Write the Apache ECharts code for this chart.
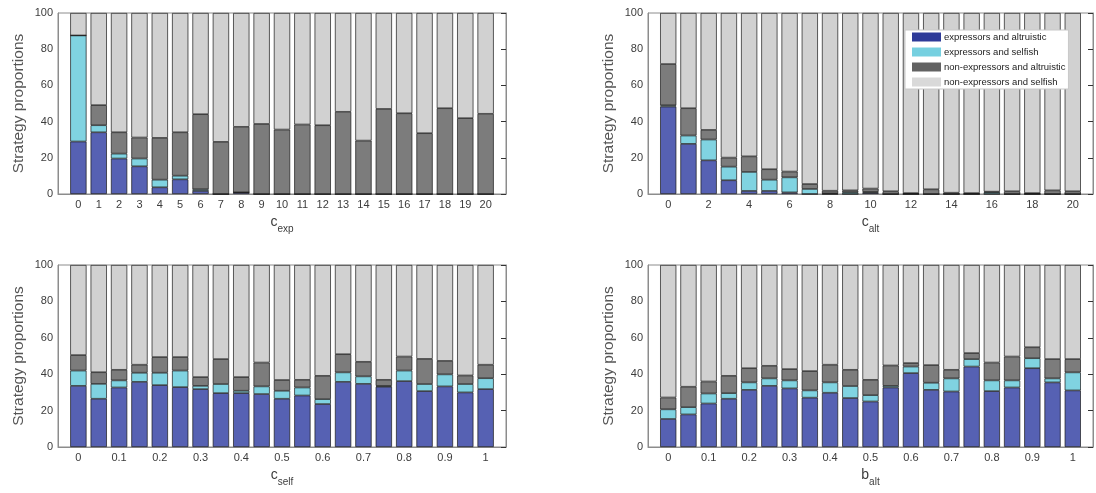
<!DOCTYPE html>
<html>
<head>
<meta charset="utf-8">
<script src="https://cdn.jsdelivr.net/npm/echarts@6/dist/echarts.min.js"></script>
<style>
  html, body { margin: 0; padding: 0; background: #ffffff; }
  #chart { width: 1096px; height: 493px; }
</style>
</head>
<body>
<div id="chart"></div>
<script>
// Tick labels for each panel (one per bar, 21 parameter values)
const cExpLabels  = ['0','1','2','3','4','5','6','7','8','9','10','11','12','13','14','15','16','17','18','19','20'];
const cAltLabels  = ['0','','2','','4','','6','','8','','10','','12','','14','','16','','18','','20'];
const cSelfLabels = ['0','','0.1','','0.2','','0.3','','0.4','','0.5','','0.6','','0.7','','0.8','','0.9','','1'];
const bAltLabels  = ['0','','0.1','','0.2','','0.3','','0.4','','0.5','','0.6','','0.7','','0.8','','0.9','','1'];

// Strategy proportions (%) — panel c_exp
const cExpExprAlt  = [29.0,34.1,19.6,15.3,3.7,8.1,1.7,0,0.9,0,0,0,0,0,0,0,0,0,0,0,0];
const cExpExprSelf = [58.6,3.9,2.7,4.3,4.2,2.0,0.9,0,0,0,0,0,0,0,0,0,0,0,0,0,0];
const cExpNonAlt   = [0,11.1,11.8,11.6,23.1,24.0,41.5,28.8,36.2,38.7,35.6,38.4,38.0,45.4,29.5,47.0,44.6,33.6,47.4,41.9,44.3];
const cExpNonSelf  = [12.4,50.9,65.9,68.8,69.0,65.9,55.9,71.2,62.9,61.3,64.4,61.6,62.0,54.6,70.5,53.0,55.4,66.4,52.6,58.1,55.7];

// Strategy proportions (%) — panel c_alt
const cAltExprAlt  = [48.3,27.7,18.6,7.6,1.7,1.7,0.9,0,0,0,0.7,0,0,0,0,0,0,0,0,0,0];
const cAltExprSelf = [0.7,4.6,11.5,7.5,10.5,6.2,8.3,2.8,0.3,1.0,0.5,0,0,0,0,0,1.0,0,0,0,0];
const cAltNonAlt   = [22.8,15.1,5.3,5.0,8.6,5.8,3.2,2.7,1.5,1.0,1.8,1.5,0.5,2.6,0.7,0.5,0.3,1.5,0.5,2.0,1.5];
const cAltNonSelf  = [28.2,52.6,64.6,79.9,79.2,86.3,87.6,94.5,98.2,98.0,97.0,98.5,99.5,97.4,99.3,99.5,98.7,98.5,99.5,98.0,98.5];

// Strategy proportions (%) — panel c_self
const cSelfExprAlt  = [33.6,26.5,32.7,35.8,34.0,32.9,31.8,29.6,29.6,29.1,26.5,28.3,23.6,35.8,34.7,33.1,36.2,30.7,33.3,30.0,31.8];
const cSelfExprSelf = [8.4,8.2,3.9,5.0,6.8,9.1,1.8,5.0,1.3,4.2,4.4,4.4,2.7,5.2,4.1,0.5,5.8,3.9,6.6,4.6,6.0];
const cSelfNonAlt   = [8.5,6.4,5.8,4.4,8.6,7.4,4.8,13.7,7.5,13.1,5.9,4.2,12.8,10.0,8.0,3.3,7.7,13.8,7.4,4.7,7.4];
const cSelfNonSelf  = [49.5,58.9,57.6,54.8,50.6,50.6,61.6,51.7,61.6,53.6,63.2,63.1,60.9,49.0,53.2,63.1,50.3,51.6,52.7,60.7,54.8];

// Strategy proportions (%) — panel b_alt
const bAltExprAlt  = [15.4,17.9,23.9,26.5,31.4,33.6,32.2,27.1,29.8,26.9,25.0,32.7,40.6,31.4,30.5,44.2,30.7,32.7,43.3,35.5,31.1];
const bAltExprSelf = [5.3,4.0,5.5,3.1,4.1,4.1,4.4,4.0,5.7,6.6,3.5,0.9,3.6,3.9,7.2,4.1,5.9,3.9,5.5,2.2,9.9];
const bAltNonAlt   = [6.5,11.2,6.6,9.5,7.8,6.9,6.2,10.6,9.7,8.9,8.4,11.2,1.9,9.7,4.7,3.3,9.8,13.1,6.0,10.6,7.3];
const bAltNonSelf  = [72.8,66.9,64.0,60.9,56.7,55.4,57.2,58.3,54.8,57.6,63.1,55.2,53.9,55.0,57.6,48.4,53.6,50.3,45.2,51.7,51.7];

const strategyNames = [
  'expressors and altruistic',
  'expressors and selfish',
  'non-expressors and altruistic',
  'non-expressors and selfish'
];
const barColors    = ['#5661b3', '#80d3e1', '#7c7c7c', '#d1d1d1'];
const legendColors = ['#2d3a98', '#76d0e0', '#626262', '#d9d9d9'];

const panels = [
  { labels: cExpLabels,  main: 'c', sub: 'exp',  series: [cExpExprAlt, cExpExprSelf, cExpNonAlt, cExpNonSelf],
    box: { left: 58,  top: 13,  width: 448, height: 181 } },
  { labels: cAltLabels,  main: 'c', sub: 'alt',  series: [cAltExprAlt, cAltExprSelf, cAltNonAlt, cAltNonSelf],
    box: { left: 648, top: 13,  width: 448, height: 181 } },
  { labels: cSelfLabels, main: 'c', sub: 'self', series: [cSelfExprAlt, cSelfExprSelf, cSelfNonAlt, cSelfNonSelf],
    box: { left: 58,  top: 265, width: 448, height: 182 } },
  { labels: bAltLabels,  main: 'b', sub: 'alt',  series: [bAltExprAlt, bAltExprSelf, bAltNonAlt, bAltNonSelf],
    box: { left: 648, top: 265, width: 448, height: 182 } }
];

const FONT = '"Liberation Sans", Arial, Helvetica, sans-serif';
const AXIS_GRAY = '#8c8c8c';
const TEXT_GRAY = '#3c3c3c';

const grid = [], xAxis = [], yAxis = [], series = [];

panels.forEach((p, k) => {
  grid.push(Object.assign({ show: true, borderColor: AXIS_GRAY, borderWidth: 1, backgroundColor: '#fff' }, p.box));

  // one empty slot at each end keeps a full bar pitch between the box and the outer bars
  xAxis.push({
    type: 'category', gridIndex: k, boundaryGap: false,
    data: [''].concat(p.labels, ['']),
    axisLine: { show: true, onZero: false, lineStyle: { color: AXIS_GRAY } },
    axisTick: { show: false },
    splitLine: { show: false },
    axisLabel: { interval: 0, margin: 5, fontSize: 11, color: TEXT_GRAY, fontFamily: FONT },
    name: '{m|' + p.main + '}{s|' + p.sub + '}',
    nameLocation: 'middle', nameGap: 21,
    nameTextStyle: {
      rich: {
        m: { fontSize: 14, color: TEXT_GRAY, fontFamily: FONT, verticalAlign: 'top' },
        s: { fontSize: 10, color: TEXT_GRAY, fontFamily: FONT, padding: [9, 0, 0, 0], verticalAlign: 'top' }
      }
    }
  });

  yAxis.push({
    type: 'value', gridIndex: k, min: 0, max: 100, interval: 20,
    axisLine: { show: true, onZero: false, lineStyle: { color: AXIS_GRAY } },
    axisTick: { show: false },
    splitLine: { show: false },
    axisLabel: { margin: 5, fontSize: 11, color: TEXT_GRAY, fontFamily: FONT },
    name: 'Strategy proportions', nameLocation: 'middle', nameGap: 31,
    nameTextStyle: { fontSize: 15.5, color: '#555', fontFamily: FONT }
  });
  // mirrored ticks along the right border
  yAxis.push({
    type: 'value', gridIndex: k, min: 0, max: 100, interval: 20, position: 'right',
    axisLine: { show: true, onZero: false, lineStyle: { color: AXIS_GRAY } },
    axisTick: { show: true, inside: true, length: 5, lineStyle: { color: '#333' } },
    axisLabel: { show: false },
    splitLine: { show: false }
  });

  p.series.forEach((vals, s) => {
    series.push({
      type: 'bar', name: strategyNames[s],
      xAxisIndex: k, yAxisIndex: 2 * k, stack: 'panel' + k,
      barWidth: '80%',
      itemStyle: { color: barColors[s], borderColor: '#1a1a1a', borderWidth: 0.7 },
      emphasis: { disabled: true },
      data: ['-'].concat(vals, ['-'])
    });
  });
});

const chart = echarts.init(document.getElementById('chart'), null, { renderer: 'canvas' });
chart.setOption({
  animation: false,
  backgroundColor: '#ffffff',
  textStyle: { fontFamily: FONT },
  grid, xAxis, yAxis, series,
  legend: {
    left: 905, top: 30, orient: 'vertical',
    backgroundColor: '#ffffff', borderColor: '#c8c8c8', borderWidth: 1,
    padding: [2, 3, 2, 7], itemGap: 5, itemWidth: 29, itemHeight: 9,
    icon: 'rect', selectedMode: false,
    itemStyle: { borderWidth: 0 },
    textStyle: { fontSize: 9.5, color: '#222', fontFamily: FONT, padding: [0, 0, 0, -2] },
    data: strategyNames.map((n, i) => ({ name: n, itemStyle: { color: legendColors[i], borderWidth: 0 } }))
  }
});
</script>
</body>
</html>
